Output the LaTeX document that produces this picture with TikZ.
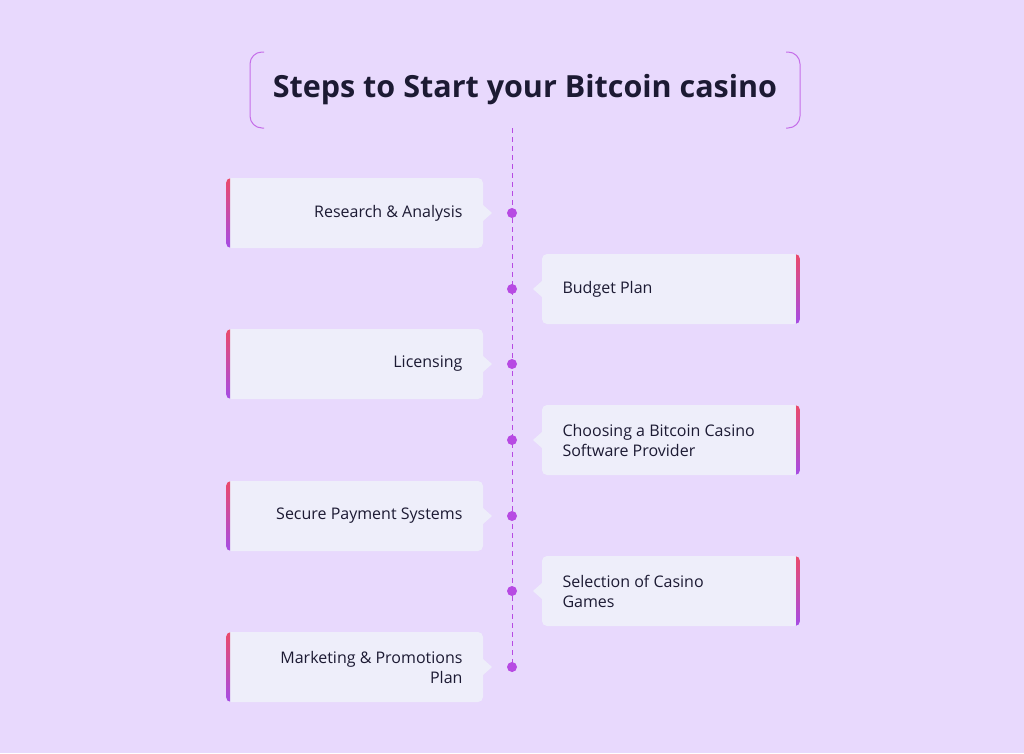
\documentclass[tikz,border=0pt]{standalone}
\usepackage{fontspec}
\setmainfont{Open Sans}
\begin{document}
\begin{tikzpicture}[x=1pt,y=-1pt,
  box/.style={fill=boxc,rounded corners=5pt,minimum width=257pt,minimum height=70pt,inner sep=0pt},
  lbl/.style={font=\fontsize{16}{20}\selectfont,text=txt,align=left},
  rlbl/.style={font=\fontsize{16}{20}\selectfont,text=txt,align=right},
  dot/.style={circle,fill=vio,inner sep=0pt,minimum size=10pt}]
\definecolor{bg}{HTML}{E8D9FD}
\definecolor{boxc}{HTML}{EEEEFA}
\definecolor{vio}{HTML}{B74AE3}
\definecolor{txt}{HTML}{1C1A33}
\definecolor{redc}{HTML}{EB4A6A}
\definecolor{purc}{HTML}{A54CE6}
\fill[bg] (0,0) rectangle (1024,753);
\useasboundingbox (0,0) rectangle (1024,753);
% title
\node[font=\fontsize{30.5}{34}\selectfont\bfseries,text=txt] (title) at (525,90) {Steps to Start your Bitcoin casino};
\draw[vio!80,line width=1pt,rounded corners=12pt] (264,52) -- (250,52) -- (250,128) -- (264,128);
\draw[vio!80,line width=1pt,rounded corners=12pt] (786,52) -- (800,52) -- (800,128) -- (786,128);
\coordinate (lt) at (512,128);
\coordinate (lb) at (512,672);
\draw[vio,line width=1pt,dash pattern=on 5pt off 4pt] (lt) -- (lb);
% left boxes
\foreach \y/\t/\n in {213/{Research \& Analysis}/a,364/{Licensing}/c,516/{Secure Payment Systems}/e,667/{Marketing \& Promotions\\Plan}/g}{
  \node[box] (b\n) at (354.5,\y) {};
  \fill[boxc] (483,\y-8) -- (492,\y) -- (483,\y+8) -- cycle;
  \begin{scope}
  \clip[rounded corners=5pt] (226,\y-35) rectangle (260,\y+35);
  \shade[top color=redc,bottom color=purc] (226,\y-35) rectangle (230,\y+35);
  \end{scope}
  \node[rlbl,anchor=east] (t\n) at (466,\y) {\t};
  \node[dot] (d\n) at (512,\y) {};
}
% right boxes
\foreach \y/\t/\n in {289/{Budget Plan}/b,440/{Choosing a Bitcoin Casino\\Software Provider}/d,591/{Selection of Casino\\Games}/f}{
  \node[box] (b\n) at (670.5,\y) {};
  \fill[boxc] (542,\y-8) -- (533,\y) -- (542,\y+8) -- cycle;
  \begin{scope}
  \clip[rounded corners=5pt] (766,\y-35) rectangle (800,\y+35);
  \shade[top color=redc,bottom color=purc] (796,\y-35) rectangle (800,\y+35);
  \end{scope}
  \node[lbl,anchor=west] (t\n) at (559,\y) {\t};
  \node[dot] (d\n) at (512,\y) {};
}
\end{tikzpicture}
\end{document}
